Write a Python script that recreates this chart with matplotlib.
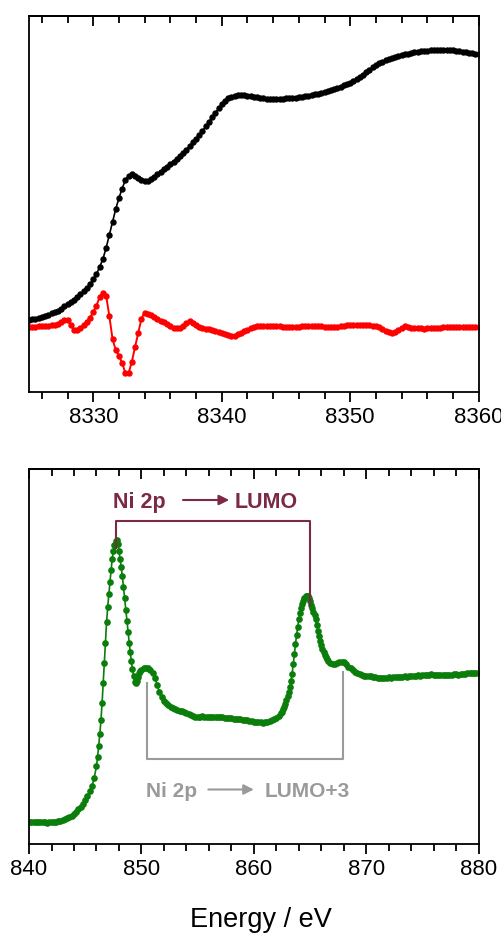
import numpy as np
import matplotlib
matplotlib.use("Agg")
import matplotlib.pyplot as plt
from matplotlib.ticker import MultipleLocator

plt.rcParams['font.family'] = ['Liberation Sans', 'DejaVu Sans']

# ---- Ni K-edge XANES (top): energy grid 0.25 eV, intensities in a.u.
k_energy = 8325 + 0.25 * np.arange(141)
k_xanes = [
    0.725, 0.730, 0.735, 0.745, 0.755, 0.765, 0.775, 0.787, 0.800, 0.815,
    0.835, 0.860, 0.880, 0.900, 0.925, 0.950, 0.980, 1.010, 1.040, 1.080,
    1.130, 1.180, 1.250, 1.330, 1.440, 1.570, 1.700, 1.830, 1.940, 2.035,
    2.120, 2.165, 2.180, 2.165, 2.145, 2.125, 2.110, 2.110, 2.130, 2.155,
    2.180, 2.205, 2.230, 2.255, 2.280, 2.305, 2.335, 2.365, 2.395, 2.425,
    2.460, 2.495, 2.530, 2.570, 2.610, 2.655, 2.700, 2.745, 2.790, 2.835,
    2.875, 2.910, 2.935, 2.950, 2.960, 2.965, 2.965, 2.965, 2.960, 2.955,
    2.950, 2.945, 2.940, 2.935, 2.932, 2.930, 2.930, 2.930, 2.930, 2.932,
    2.935, 2.937, 2.940, 2.942, 2.945, 2.950, 2.955, 2.960, 2.967, 2.975,
    2.982, 2.990, 2.998, 3.007, 3.017, 3.028, 3.040, 3.052, 3.065, 3.078,
    3.093, 3.110, 3.130, 3.150, 3.170, 3.195, 3.220, 3.245, 3.265, 3.285,
    3.300, 3.315, 3.327, 3.338, 3.348, 3.358, 3.367, 3.375, 3.382, 3.389,
    3.395, 3.400, 3.405, 3.410, 3.413, 3.416, 3.418, 3.420, 3.420, 3.420,
    3.420, 3.418, 3.415, 3.412, 3.408, 3.403, 3.398, 3.392, 3.387, 3.382,
    3.377,
]
# first derivative (offset, a.u.)
k_deriv = [
    0.655, 0.655, 0.655, 0.660, 0.660, 0.665, 0.665, 0.670, 0.675, 0.680,
    0.700, 0.725, 0.720, 0.670, 0.625, 0.620, 0.640, 0.670, 0.705, 0.745,
    0.800, 0.865, 0.950, 0.995, 0.965, 0.760, 0.530, 0.420, 0.360, 0.290,
    0.190, 0.190, 0.300, 0.450, 0.590, 0.735, 0.795, 0.785, 0.770, 0.750,
    0.730, 0.715, 0.700, 0.680, 0.660, 0.645, 0.637, 0.645, 0.665, 0.690,
    0.710, 0.695, 0.670, 0.655, 0.645, 0.635, 0.627, 0.620, 0.613, 0.605,
    0.595, 0.585, 0.575, 0.565, 0.565, 0.580, 0.595, 0.610, 0.625, 0.640,
    0.650, 0.657, 0.660, 0.662, 0.662, 0.660, 0.660, 0.660, 0.657, 0.655,
    0.653, 0.655, 0.655, 0.653, 0.655, 0.657, 0.658, 0.660, 0.660, 0.660,
    0.662, 0.658, 0.653, 0.650, 0.647, 0.650, 0.655, 0.660, 0.665, 0.667,
    0.670, 0.670, 0.670, 0.670, 0.670, 0.670, 0.667, 0.663, 0.660, 0.652,
    0.635, 0.615, 0.597, 0.593, 0.605, 0.625, 0.645, 0.658, 0.655, 0.645,
    0.640, 0.637, 0.637, 0.635, 0.637, 0.637, 0.640, 0.642, 0.645, 0.647,
    0.650, 0.652, 0.652, 0.650, 0.648, 0.648, 0.650, 0.650, 0.648, 0.647,
    0.647,
]

# ---- Ni L-edge (bottom): finer steps across the two white lines
l_energy = np.round(np.concatenate([
    np.arange(840.0, 845.81, 0.2),
    np.arange(846.0, 850.01, 0.1),
    np.arange(850.2, 862.41, 0.2),
    np.arange(862.5, 866.51, 0.1),
    np.arange(866.6, 880.01, 0.2),
]), 2)
l_intensity = [
    # 840.0 - 845.8
    0.215, 0.215, 0.217, 0.215, 0.218, 0.220, 0.222, 0.217, 0.212, 0.215,
    0.217, 0.220, 0.222, 0.227, 0.232, 0.237, 0.245, 0.255, 0.268, 0.282,
    0.300, 0.320, 0.345, 0.370, 0.400, 0.435, 0.475, 0.525, 0.580, 0.660,
    # 846.0 - 850.0
    0.780, 0.870, 0.980, 1.100, 1.240, 1.410, 1.610, 1.810, 2.010, 2.220,
    2.370, 2.500, 2.620, 2.740, 2.850, 2.930, 2.990, 3.030, 3.040, 3.000,
    2.930, 2.850, 2.770, 2.680, 2.570, 2.460, 2.340, 2.230, 2.120, 2.010,
    1.920, 1.830, 1.750, 1.680, 1.620, 1.610, 1.630, 1.670, 1.710, 1.730,
    1.740,
    # 850.2 - 862.4
    1.755, 1.760, 1.755, 1.740, 1.705, 1.660, 1.590, 1.520, 1.465, 1.430,
    1.405, 1.385, 1.370, 1.360, 1.350, 1.340, 1.330, 1.325, 1.315, 1.305,
    1.295, 1.285, 1.275, 1.270, 1.270, 1.270, 1.275, 1.270, 1.270, 1.265,
    1.270, 1.270, 1.265, 1.267, 1.265, 1.265, 1.260, 1.260, 1.255, 1.255,
    1.250, 1.250, 1.245, 1.245, 1.240, 1.240, 1.235, 1.230, 1.227, 1.223,
    1.220, 1.217, 1.215, 1.213, 1.215, 1.220, 1.227, 1.235, 1.245, 1.260,
    1.280, 1.305,
    # 862.5 - 866.5
    1.320, 1.345, 1.370, 1.400, 1.435, 1.475, 1.520, 1.565, 1.625, 1.700,
    1.795, 1.900, 1.995, 2.090, 2.170, 2.245, 2.305, 2.355, 2.395, 2.430,
    2.455, 2.475, 2.480, 2.475, 2.455, 2.425, 2.390, 2.355, 2.320, 2.285,
    2.245, 2.190, 2.130, 2.075, 2.025, 1.985, 1.945, 1.915, 1.885, 1.865,
    1.845,
    # 866.6 - 880.0
    1.830, 1.810, 1.795, 1.795, 1.805, 1.815, 1.823, 1.815, 1.795, 1.770,
    1.755, 1.740, 1.720, 1.705, 1.695, 1.685, 1.680, 1.680, 1.675, 1.675,
    1.670, 1.665, 1.660, 1.655, 1.657, 1.655, 1.660, 1.665, 1.662, 1.667,
    1.670, 1.667, 1.672, 1.673, 1.675, 1.670, 1.675, 1.680, 1.677, 1.682,
    1.685, 1.680, 1.690, 1.687, 1.685, 1.690, 1.695, 1.690, 1.687, 1.692,
    1.690, 1.685, 1.690, 1.692, 1.690, 1.687, 1.695, 1.697, 1.692, 1.700,
    1.702, 1.700, 1.705, 1.707, 1.705, 1.710, 1.712, 1.713,
]
assert len(k_xanes) == len(k_energy) == len(k_deriv)
assert len(l_intensity) == len(l_energy)

# transition markers: peak energies and bracket heights (a.u.)
lumo_peaks = [847.7, 865.0]
lumo_ends = [2.96, 2.39]
lumo_bar = 3.23
lumo3_peaks = [850.5, 867.9]
lumo3_ends = [1.61, 1.72]
lumo3_bar = 0.85

maroon = '#7b2944'
grey = '#9a9a9a'

fig = plt.figure(figsize=(5.02, 9.33), dpi=100)
ax1 = fig.add_axes([0.0578, 0.5798, 0.8958, 0.4034])
ax2 = fig.add_axes([0.0578, 0.0954, 0.8958, 0.4016])

ax1.plot(k_energy, k_xanes, '-o', color='black', lw=1.2, ms=4.6, mew=0)
ax1.plot(k_energy, k_deriv, '-o', color='red', lw=1.4, ms=4.6, mew=0)
ax1.set_xlim(8325, 8360)
ax1.set_ylim(0, 3.763)
ax1.xaxis.set_major_locator(MultipleLocator(10))

ax2.plot(l_energy, l_intensity, '-o', color='#0a7d0a', lw=1.2, ms=4.8, mew=0)
ax2.set_xlim(840, 880)
ax2.set_ylim(0, 3.747)
ax2.xaxis.set_major_locator(MultipleLocator(10))

for ax in (ax1, ax2):
    ax.xaxis.set_minor_locator(MultipleLocator(2))
    ax.set_yticks([])
    for s in ax.spines.values():
        s.set_linewidth(1.3)
    ax.tick_params(axis='x', which='both', direction='out', width=1.3,
                   labelsize=16, pad=4, top=False)
    ax.tick_params(axis='x', which='major', length=7)
    ax.tick_params(axis='x', which='minor', length=5)
    # inward ticks along the top edge
    top = ax.secondary_xaxis('top')
    top.xaxis.set_major_locator(MultipleLocator(10))
    top.xaxis.set_minor_locator(MultipleLocator(2))
    top.tick_params(axis='x', which='both', direction='in', width=1.3,
                    labeltop=False)
    top.tick_params(axis='x', which='major', length=7)
    top.tick_params(axis='x', which='minor', length=5)
    top.spines['top'].set_linewidth(1.3)

# Ni 2p -> LUMO bracket
ax2.plot([lumo_peaks[0], lumo_peaks[0], lumo_peaks[1], lumo_peaks[1]],
         [lumo_ends[0], lumo_bar, lumo_bar, lumo_ends[1]],
         color=maroon, lw=1.5)
ax2.text(847.5, 3.36, 'Ni 2p', color=maroon, fontsize=15.5, fontweight='bold',
         ha='left', va='baseline')
ax2.annotate('', xy=(857.8, 3.44), xytext=(853.7, 3.44),
             arrowprops=dict(arrowstyle='-|>', color=maroon, lw=1.5,
                             mutation_scale=15, shrinkA=0, shrinkB=0))
ax2.text(858.3, 3.36, 'LUMO', color=maroon, fontsize=15.5, fontweight='bold',
         ha='left', va='baseline')

# Ni 2p -> LUMO+3 bracket
ax2.plot([lumo3_peaks[0], lumo3_peaks[0], lumo3_peaks[1], lumo3_peaks[1]],
         [lumo3_ends[0], lumo3_bar, lumo3_bar, lumo3_ends[1]],
         color=grey, lw=1.5)
ax2.text(850.45, 0.47, 'Ni 2p', color=grey, fontsize=15, fontweight='bold',
         ha='left', va='baseline')
ax2.annotate('', xy=(860.0, 0.545), xytext=(855.95, 0.545),
             arrowprops=dict(arrowstyle='-|>', color=grey, lw=1.5,
                             mutation_scale=15, shrinkA=0, shrinkB=0))
ax2.text(861.0, 0.47, 'LUMO+3', color=grey, fontsize=15, fontweight='bold',
         ha='left', va='baseline')

fig.text(0.52, 0.0064, 'Energy / eV', ha='center', va='baseline', fontsize=19.5)

fig.savefig('out.png', dpi=100)
